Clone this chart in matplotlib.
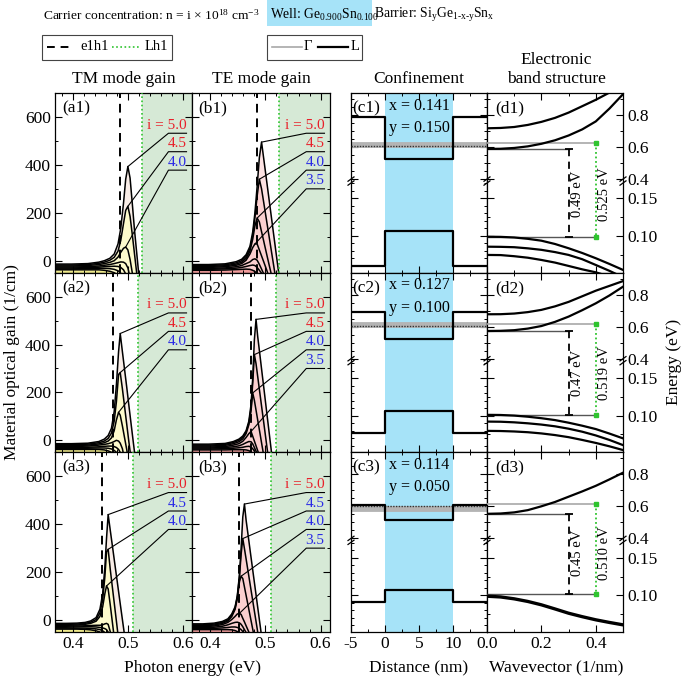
import numpy as np
import matplotlib
matplotlib.use("Agg")
import matplotlib.pyplot as plt
from matplotlib.lines import Line2D
from matplotlib.patches import Rectangle
from matplotlib.ticker import FixedLocator, MultipleLocator
from matplotlib.transforms import blended_transform_factory

plt.rcParams['font.family'] = ['Liberation Serif', 'DejaVu Serif']
plt.rcParams['mathtext.fontset'] = 'custom'
plt.rcParams['mathtext.rm'] = 'Liberation Serif'
plt.rcParams['mathtext.it'] = 'Liberation Serif:italic'
plt.rcParams['mathtext.bf'] = 'Liberation Serif:bold'
plt.rcParams['axes.linewidth'] = 0.9

# ---------------- data ----------------
i_levels = [5.0, 4.5, 4.0, 3.5, 3.0, 2.5, 2.0]

# TM mode gain (column a), photon energy grids (eV) and gain (1/cm)
E_a1 = [0.367, 0.397, 0.427, 0.447, 0.457, 0.467, 0.475, 0.482, 0.487, 0.492, 0.496, 0.500, 0.504, 0.508, 0.512, 0.516, 0.520, 0.527]
G_a1 = [
    [-14, -14, -12, -6, 0, 10, 28, 70, 135, 240, 340, 393, 345, 240, 130, 35, -60, -200],
    [-18, -18, -16, -11, -6, 2, 14, 40, 85, 155, 210, 227, 185, 110, 30, -50, -120, -200],
    [-22, -22, -20, -16, -12, -7, 0, 15, 35, 52, 57, 45, 5, -50, -110, -170, -200, -200],
    [-26, -26, -25, -22, -19, -16, -12, -8, -5, -6, -12, -30, -70, -130, -200, -200, -200, -200],
    [-30, -30, -29, -27, -25, -24, -23, -24, -28, -38, -55, -90, -150, -200, -200, -200, -200, -200],
    [-34, -34, -33, -32, -32, -33, -36, -42, -52, -70, -100, -150, -200, -200, -200, -200, -200, -200],
    [-38, -38, -38, -38, -40, -44, -50, -60, -75, -100, -140, -200, -200, -200, -200, -200, -200, -200],
]
E_a2 = [0.367, 0.397, 0.427, 0.447, 0.457, 0.464, 0.470, 0.475, 0.479, 0.483, 0.486, 0.490, 0.494, 0.498, 0.502, 0.506, 0.510, 0.517]
G_a2 = [
    [-14, -14, -12, -5, 5, 20, 50, 120, 230, 370, 446, 370, 295, 220, 142, 66, -10, -140],
    [-18, -18, -16, -10, -3, 8, 30, 80, 160, 275, 283, 215, 140, 65, -10, -80, -150, -200],
    [-22, -22, -20, -15, -10, -3, 10, 40, 85, 117, 105, 60, 10, -40, -100, -160, -200, -200],
    [-26, -26, -24, -20, -17, -14, -10, -5, 0, -3, -12, -35, -80, -140, -200, -200, -200, -200],
    [-30, -30, -29, -27, -25, -24, -24, -26, -30, -38, -50, -80, -130, -200, -200, -200, -200, -200],
    [-34, -34, -33, -32, -32, -33, -36, -42, -50, -62, -80, -120, -180, -200, -200, -200, -200, -200],
    [-38, -38, -38, -38, -40, -44, -50, -60, -75, -95, -120, -160, -200, -200, -200, -200, -200, -200],
]
E_a3 = [0.367, 0.387, 0.407, 0.422, 0.432, 0.442, 0.449, 0.454, 0.458, 0.461, 0.464, 0.468, 0.472, 0.476, 0.480, 0.484, 0.488, 0.494]
G_a3 = [
    [-14, -14, -13, -10, -4, 10, 45, 110, 220, 340, 440, 372, 305, 237, 170, 102, 35, -65],
    [-18, -18, -17, -14, -9, 2, 30, 85, 180, 285, 295, 208, 131, 54, -23, -100, -170, -200],
    [-22, -22, -21, -18, -14, -5, 15, 55, 110, 142, 130, 60, -15, -90, -160, -200, -200, -200],
    [-26, -26, -25, -24, -23, -22, -22, -20, -16, -14, -18, -50, -110, -200, -200, -200, -200, -200],
    [-30, -30, -29, -28, -28, -29, -31, -33, -36, -40, -50, -90, -150, -200, -200, -200, -200, -200],
    [-34, -34, -34, -34, -35, -37, -40, -45, -52, -60, -75, -120, -180, -200, -200, -200, -200, -200],
    [-38, -38, -38, -39, -41, -45, -50, -58, -68, -80, -100, -150, -200, -200, -200, -200, -200, -200],
]

# TE mode gain (column b)
E_b1 = [0.367, 0.397, 0.427, 0.447, 0.457, 0.465, 0.472, 0.477, 0.481, 0.485, 0.489, 0.493, 0.497, 0.502, 0.507, 0.512, 0.517, 0.524, 0.532]
G_b1 = [
    [-16, -16, -13, -4, 6, 25, 60, 120, 200, 310, 430, 495, 425, 337, 249, 161, 73, -50, -180],
    [-20, -20, -17, -9, 0, 18, 50, 105, 180, 270, 340, 300, 242, 169, 96, 23, -50, -150, -200],
    [-24, -24, -21, -14, -6, 10, 40, 90, 145, 178, 162, 121, 81, 30, -20, -70, -130, -200, -200],
    [-28, -28, -25, -19, -12, 2, 28, 55, 70, 70, 45, 20, -5, -37, -70, -120, -180, -200, -200],
    [-32, -32, -30, -25, -20, -12, -5, 5, 8, 2, -15, -35, -55, -100, -150, -200, -200, -200, -200],
    [-36, -36, -34, -31, -28, -24, -20, -18, -20, -28, -40, -52, -70, -110, -160, -200, -200, -200, -200],
    [-40, -40, -39, -37, -36, -35, -36, -40, -45, -55, -70, -90, -120, -170, -200, -200, -200, -200, -200],
]
E_b2 = [0.367, 0.397, 0.427, 0.442, 0.452, 0.459, 0.465, 0.470, 0.474, 0.477, 0.480, 0.483, 0.486, 0.490, 0.494, 0.498, 0.502, 0.506, 0.511, 0.517]
G_b2 = [
    [-16, -16, -13, -5, 5, 18, 40, 80, 150, 260, 420, 505, 434, 357, 279, 202, 124, 47, -50, -165],
    [-20, -20, -17, -9, 0, 13, 35, 72, 135, 240, 358, 320, 267, 196, 126, 56, -15, -85, -180, -200],
    [-24, -24, -21, -14, -6, 6, 28, 65, 125, 198, 167, 126, 85, 31, -24, -78, -140, -200, -200, -200],
    [-28, -28, -26, -20, -14, -4, 12, 28, 37, 17, -3, -23, -43, -70, -100, -150, -200, -200, -200, -200],
    [-32, -32, -30, -27, -23, -17, -10, -5, -6, -15, -30, -45, -60, -90, -130, -200, -200, -200, -200, -200],
    [-36, -36, -35, -33, -31, -29, -26, -25, -28, -35, -45, -58, -75, -110, -160, -200, -200, -200, -200, -200],
    [-40, -40, -40, -39, -39, -39, -40, -43, -48, -55, -65, -80, -100, -140, -200, -200, -200, -200, -200, -200],
]
E_b3 = [0.367, 0.387, 0.407, 0.422, 0.432, 0.439, 0.445, 0.449, 0.453, 0.456, 0.459, 0.462, 0.465, 0.469, 0.473, 0.477, 0.481, 0.485, 0.490, 0.497]
G_b3 = [
    [-16, -16, -13, -6, 5, 25, 55, 100, 190, 300, 430, 484, 417, 348, 278, 209, 140, 71, -15, -136],
    [-20, -20, -17, -10, 0, 20, 50, 95, 180, 275, 340, 298, 255, 197, 139, 81, 23, -35, -108, -200],
    [-24, -24, -21, -14, -4, 14, 44, 88, 160, 183, 173, 138, 103, 56, 9, -38, -85, -150, -200, -200],
    [-28, -28, -25, -19, -10, 2, 15, 25, 28, 23, 7, -8, -24, -45, -66, -100, -150, -200, -200, -200],
    [-32, -32, -30, -26, -20, -14, -10, -9, -12, -18, -28, -40, -52, -75, -110, -160, -200, -200, -200, -200],
    [-36, -36, -35, -33, -31, -29, -29, -31, -35, -40, -48, -58, -70, -95, -140, -200, -200, -200, -200, -200],
    [-40, -40, -40, -40, -40, -41, -44, -48, -54, -60, -68, -80, -95, -130, -180, -200, -200, -200, -200, -200],
]

tm_label_colors = [['r', 'r', 'b'], ['r', 'r', 'b'], ['r', 'b', 'b']]
te_label_colors = [['r', 'r', 'b', 'b'], ['r', 'r', 'b', 'b'], ['r', 'b', 'b', 'b']]
label_gain = [532, 455, 378, 300]

e1h1_eV = [0.485, 0.473, 0.453]
lh1_eV = [0.525, 0.519, 0.510]
e1h1_text = ['0.49 eV', '0.47 eV', '0.45 eV']
lh1_text = ['0.525 eV', '0.519 eV', '0.510 eV']

# Confinement (column c)
sn_x = ['0.141', '0.127', '0.114']
si_y = ['0.150', '0.100', '0.050']
dist_nm = [-5, 0, 0, 10, 10, 15]
cb_barrier = [0.787, 0.694, 0.606]
cb_well = [0.523, 0.521, 0.514]
vb_well = [0.1066, 0.1067, 0.107]
vb_barrier = [0.0605, 0.0765, 0.0915]
grey_band = [0.615, 0.611, 0.584]
dot_level = [0.606, 0.604, 0.602]

# Band structure (column d)
L1 = [0.622, 0.619, 0.612]
e1 = [0.588, 0.573, 0.553]
h1 = [0.098, 0.101, 0.102]
k_nm = [0.0, 0.05, 0.10, 0.15, 0.20, 0.25, 0.30, 0.35, 0.40, 0.45, 0.50]
d_upper = [
    [[0.717, 0.719, 0.725, 0.738, 0.757, 0.782, 0.815, 0.855, 0.895, 0.940, 0.990],
     [0.588, 0.589, 0.594, 0.604, 0.620, 0.642, 0.672, 0.710, 0.760, 0.840, 0.930]],
    [[0.6775, 0.678, 0.682, 0.691, 0.705, 0.727, 0.755, 0.790, 0.825, 0.855, 0.885],
     [0.573, 0.574, 0.578, 0.588, 0.604, 0.630, 0.663, 0.703, 0.746, 0.795, 0.850]],
    [[0.553, 0.555, 0.562, 0.576, 0.600, 0.627, 0.660, 0.693, 0.728, 0.768, 0.810]],
]
d_lower = [
    [[0.099, 0.0988, 0.098, 0.0962, 0.0937, 0.0893, 0.0836, 0.0773, 0.0703, 0.0627, 0.0547],
     [0.0857, 0.0855, 0.085, 0.0835, 0.0815, 0.0785, 0.0747, 0.069, 0.0613, 0.0535, 0.045],
     [0.0747, 0.0745, 0.073, 0.071, 0.068, 0.0645, 0.060, 0.0555, 0.0515, 0.046, 0.040]],
    [[0.101, 0.1008, 0.100, 0.0985, 0.0965, 0.094, 0.0905, 0.0865, 0.082, 0.076, 0.0696],
     [0.092, 0.0918, 0.091, 0.0897, 0.088, 0.0857, 0.0825, 0.0785, 0.0735, 0.0675, 0.0606],
     [0.0796, 0.0794, 0.0788, 0.0778, 0.0762, 0.074, 0.0712, 0.0675, 0.0635, 0.059, 0.054]],
    [[0.0995, 0.0985, 0.096, 0.0925, 0.088, 0.0825, 0.0768, 0.0722, 0.068, 0.0645, 0.0613],
     [0.098, 0.097, 0.0945, 0.091, 0.0865, 0.081, 0.0753, 0.0707, 0.0665, 0.063, 0.0598]],
]

# ---------------- style ----------------
W, H = 685, 677
RED, BLUE = '#e8202a', '#2a2ae6'
GREEN_BG = '#d6e9d6'
GREEN_LN = '#2fc42f'
WELL_BLUE = '#a6e3f8'
FS = 12.5
HFS = 9.7
LFS = 10.5

fig = plt.figure(figsize=(W / 100, H / 100), dpi=100)


def box(x0, y0, x1, y1):
    return [x0 / W, 1 - y1 / H, (x1 - x0) / W, (y1 - y0) / H]


ROWS = [(93, 272.7), (272.7, 452.3), (452.3, 632)]
COLS = [(55, 192), (192, 330), (351, 487), (487, 623)]

EB = [-10.0, 0.051, 0.173, 0.4, 0.9375, 10.0]
UB = [(-10.0 - 0.051) * 750, 0.0, 91.45, 93.7, 179.7, 93.7 + 9.6 * 160]


def fwd(y):
    return np.interp(np.asarray(y, dtype=float), EB, UB)


def inv(u):
    return np.interp(np.asarray(u, dtype=float), UB, EB)


def ticks_common(ax):
    ax.tick_params(which='both', direction='in', top=True, right=True,
                   labelsize=FS, pad=3)
    ax.tick_params(which='major', length=5, width=0.8)
    ax.tick_params(which='minor', length=2.5, width=0.7)


def brk(ax, xf, yf=0.51):
    for dy in (-0.011, 0.011):
        ax.plot([xf - 0.022, xf + 0.022], [yf + dy - 0.012, yf + dy + 0.012],
                transform=ax.transAxes, color='k', lw=0.9, clip_on=False, zorder=10)


def gain_panel(ax, E, G, row, te):
    E = np.asarray(E)
    ax.axvspan(lh1_eV[row], 0.617, color=GREEN_BG, lw=0, zorder=0)
    if te:
        fcols = ['#fde3e3', '#fbd0d0', '#f19c9c']
    else:
        fcols = ['#f9ede7', '#fdfacc', '#eee98c']
    ax.fill_between(E, G[0], -300, color=fcols[0], lw=0, zorder=1)
    ax.fill_between(E, G[1], -300, color=fcols[1], lw=0, zorder=1)
    ax.fill_between(E, G[-1], -300, color=fcols[2], lw=0, zorder=1)
    for g in G:
        ax.plot(E, g, color='k', lw=1.1, zorder=3)
    ax.axvline(e1h1_eV[row], color='k', ls=(0, (4.5, 3)), lw=1.4, zorder=4)
    ax.axvline(lh1_eV[row], color=GREEN_LN, ls=(0, (1, 1.5)), lw=1.2, zorder=4)
    cols = te_label_colors[row] if te else tm_label_colors[row]
    for j, c in enumerate(cols):
        g = np.asarray(G[j])
        idx = int(np.argmax(g))
        yy = label_gain[j]
        ax.plot([E[idx], 0.574, 0.607], [g[idx], yy, yy], color='k', lw=0.8, zorder=5)
        txt = f"i = {i_levels[j]:.1f}" if j == 0 else f"{i_levels[j]:.1f}"
        ax.text(0.607, yy + 6, txt, ha='right', va='bottom', fontsize=11,
                color=RED if c == 'r' else BLUE, zorder=6)
    ax.set_xlim(0.367, 0.617)
    ax.set_ylim(-50, 700)
    ax.set_xticks([0.4, 0.5, 0.6])
    ax.xaxis.set_minor_locator(MultipleLocator(0.02))
    ax.set_yticks([0, 200, 400, 600])
    ax.yaxis.set_minor_locator(MultipleLocator(100))
    ticks_common(ax)
    if row < 2:
        ax.tick_params(labelbottom=False)
    if te:
        ax.tick_params(labelleft=False)


def yscale_cd(ax):
    ax.set_yscale('function', functions=(fwd, inv))
    ax.set_ylim(0.051, 0.9375)


tm_E = [E_a1, E_a2, E_a3]
tm_G = [G_a1, G_a2, G_a3]
te_E = [E_b1, E_b2, E_b3]
te_G = [G_b1, G_b2, G_b3]

for r in range(3):
    y0, y1 = ROWS[r]
    # a
    ax = fig.add_axes(box(COLS[0][0], y0, COLS[0][1], y1))
    gain_panel(ax, tm_E[r], tm_G[r], r, False)
    ax.text(0.05, 0.915, f"(a{r+1})", transform=ax.transAxes, fontsize=FS, va='center', zorder=7)
    # b
    ax = fig.add_axes(box(COLS[1][0], y0, COLS[1][1], y1))
    gain_panel(ax, te_E[r], te_G[r], r, True)
    ax.text(0.045, 0.915, f"(b{r+1})", transform=ax.transAxes, fontsize=FS, va='center', zorder=7)

    # c
    ax = fig.add_axes(box(COLS[2][0], y0, COLS[2][1], y1))
    yscale_cd(ax)
    ax.axvspan(dist_nm[1], dist_nm[3], color=WELL_BLUE, lw=0, zorder=0)
    ax.plot([dist_nm[0], dist_nm[-1]], [grey_band[r]] * 2, color='#b4b4b4', lw=4.2, zorder=2,
            solid_capstyle='butt')
    ax.plot([dist_nm[0], dist_nm[-1]], [dot_level[r]] * 2, color='#333333', lw=1.0,
            ls=(0, (1, 1)), zorder=3)
    cb = [cb_barrier[r], cb_barrier[r], cb_well[r], cb_well[r], cb_barrier[r], cb_barrier[r]]
    vb = [vb_barrier[r], vb_barrier[r], vb_well[r], vb_well[r], vb_barrier[r], vb_barrier[r]]
    ax.plot(dist_nm, cb, color='k', lw=1.6, zorder=4)
    ax.plot(dist_nm, vb, color='k', lw=1.6, zorder=4)
    ax.set_xlim(-5, 15)
    ax.set_xticks([-5, 0, 5, 10, 15], labels=['-5', '0', '5', '10', ''])
    ax.xaxis.set_minor_locator(MultipleLocator(2.5))
    ax.set_yticks([0.10, 0.15, 0.4, 0.6, 0.8])
    ax.yaxis.set_minor_locator(FixedLocator(
        [0.06, 0.07, 0.08, 0.09, 0.11, 0.12, 0.13, 0.14, 0.16, 0.17,
         0.45, 0.5, 0.55, 0.65, 0.7, 0.75, 0.85, 0.9]))
    ticks_common(ax)
    ax.tick_params(labelleft=False)
    if r < 2:
        ax.tick_params(labelbottom=False)
    tr = blended_transform_factory(ax.transData, ax.transAxes)
    ax.text(0.01, 0.915, f"(c{r+1})", transform=ax.transAxes, fontsize=FS, va='center', zorder=7)
    ax.text(0.6, 0.93, f"x = {sn_x[r]}", transform=tr, fontsize=11.5, va='center', zorder=7)
    ax.text(0.6, 0.805, f"y = {si_y[r]}", transform=tr, fontsize=11.5, va='center', zorder=7)
    brk(ax, 0.0)

    # d
    ax = fig.add_axes(box(COLS[3][0], y0, COLS[3][1], y1))
    yscale_cd(ax)
    for curve in d_upper[r]:
        ax.plot(k_nm, curve, color='k', lw=1.6, zorder=4)
    for curve in d_lower[r]:
        ax.plot(k_nm, curve, color='k', lw=1.6, zorder=4)
    ax.plot([0, 0.4], [L1[r]] * 2, color='#a8a8a8', lw=1.2, zorder=3)
    ax.plot([0, 0.3], [e1[r]] * 2, color='#555555', lw=1.0, zorder=3)
    ax.plot([0, 0.4], [h1[r]] * 2, color='#555555', lw=1.0, zorder=3)
    ax.plot([0.3, 0.3], [e1[r], h1[r]], color='k', ls=(0, (4, 3)), lw=1.3, zorder=5,
            marker='_', ms=6, mew=1.3)
    ax.plot([0.4, 0.4], [L1[r], h1[r]], color=GREEN_LN, ls=(0, (1, 1.5)), lw=1.3, zorder=5,
            marker='s', ms=2.2)
    tr = blended_transform_factory(ax.transData, ax.transAxes)
    ax.text(0.332, 0.44, e1h1_text[r], transform=tr, rotation=90, ha='center', va='center',
            fontsize=10.5, zorder=6)
    ax.text(0.432, 0.44, lh1_text[r], transform=tr, rotation=90, ha='center', va='center',
            fontsize=10.5, zorder=6)
    ax.set_xlim(0, 0.5)
    ax.set_xticks([0.0, 0.2, 0.4], labels=['0.0', '0.2', '0.4'])
    ax.xaxis.set_minor_locator(MultipleLocator(0.1))
    ax.set_yticks([0.10, 0.15, 0.4, 0.6, 0.8], labels=['0.10', '0.15', '0.4', '0.6', '0.8'])
    ax.yaxis.set_minor_locator(FixedLocator([0.075, 0.125, 0.5, 0.7, 0.9]))
    ticks_common(ax)
    ax.tick_params(labelleft=False, labelright=True)
    if r < 2:
        ax.tick_params(labelbottom=False)
    ax.text(0.06, 0.915, f"(d{r+1})", transform=ax.transAxes, fontsize=FS, va='center', zorder=7)
    brk(ax, 0.0)
    brk(ax, 1.0)

# ---------------- figure texts ----------------
def ftext(x, y, s, **kw):
    kw.setdefault('fontsize', FS)
    fig.text(x / W, 1 - y / H, s, **kw)


ftext(43, 15, r"Carrier concentration: n = i $\times$ 10$^{18}$ cm$^{-3}$", va='center', fontsize=HFS)
fig.patches.append(Rectangle((267 / W, 1 - 26 / H), 105 / W, 26 / H, transform=fig.transFigure,
                             color=WELL_BLUE, lw=0, zorder=0))
ftext(270, 15, r"Well: Ge$_{0.900}$Sn$_{0.100}$", va='center', fontsize=9.8)
ftext(374, 15, "Barrier: Si$_\\mathrm{y}$Ge$_\\mathrm{1\u2010x\u2010y}$Sn$_\\mathrm{x}$",
      va='center', fontsize=9.8)

# legend boxes
fig.patches.append(Rectangle((42 / W, 1 - 60 / H), 130 / W, 25 / H, transform=fig.transFigure,
                             fill=False, ec='#444444', lw=0.8))
fig.lines.append(Line2D([47 / W, 73 / W], [1 - 47 / H] * 2, transform=fig.transFigure,
                        color='k', ls=(0, (4, 3)), lw=1.4))
ftext(80, 47, "e1h1", va='center', fontsize=LFS)
fig.lines.append(Line2D([112 / W, 140 / W], [1 - 47 / H] * 2, transform=fig.transFigure,
                        color=GREEN_LN, ls=(0, (1, 1.5)), lw=1.2))
ftext(145, 47, "Lh1", va='center', fontsize=LFS)

fig.patches.append(Rectangle((267 / W, 1 - 60 / H), 95 / W, 25 / H, transform=fig.transFigure,
                             fill=False, ec='#444444', lw=0.8))
fig.lines.append(Line2D([272 / W, 302 / W], [1 - 47 / H] * 2, transform=fig.transFigure,
                        color='#a8a8a8', lw=1.2))
ftext(304, 47, "\u0393", va='center', fontsize=LFS)
fig.lines.append(Line2D([318 / W, 348 / W], [1 - 47 / H] * 2, transform=fig.transFigure,
                        color='k', lw=1.6))
ftext(351, 47, "L", va='center', fontsize=LFS)

# column titles
ftext(124, 79, "TM mode gain", ha='center', va='center')
ftext(261, 79, "TE mode gain", ha='center', va='center')
ftext(419, 79, "Confinement", ha='center', va='center')
ftext(556, 60, "Electronic", ha='center', va='center')
ftext(556, 79, "band structure", ha='center', va='center')

# axis labels
ftext(12, 362, "Material optical gain (1/cm)", rotation=90, ha='center', va='center')
ftext(674, 362, "Energy (eV)", rotation=90, ha='center', va='center')
ftext(192, 668, "Photon energy (eV)", ha='center', va='center')
ftext(419, 668, "Distance (nm)", ha='center', va='center')
ftext(556, 668, "Wavevector (1/nm)", ha='center', va='center')

fig.savefig("out.png", dpi=100)
